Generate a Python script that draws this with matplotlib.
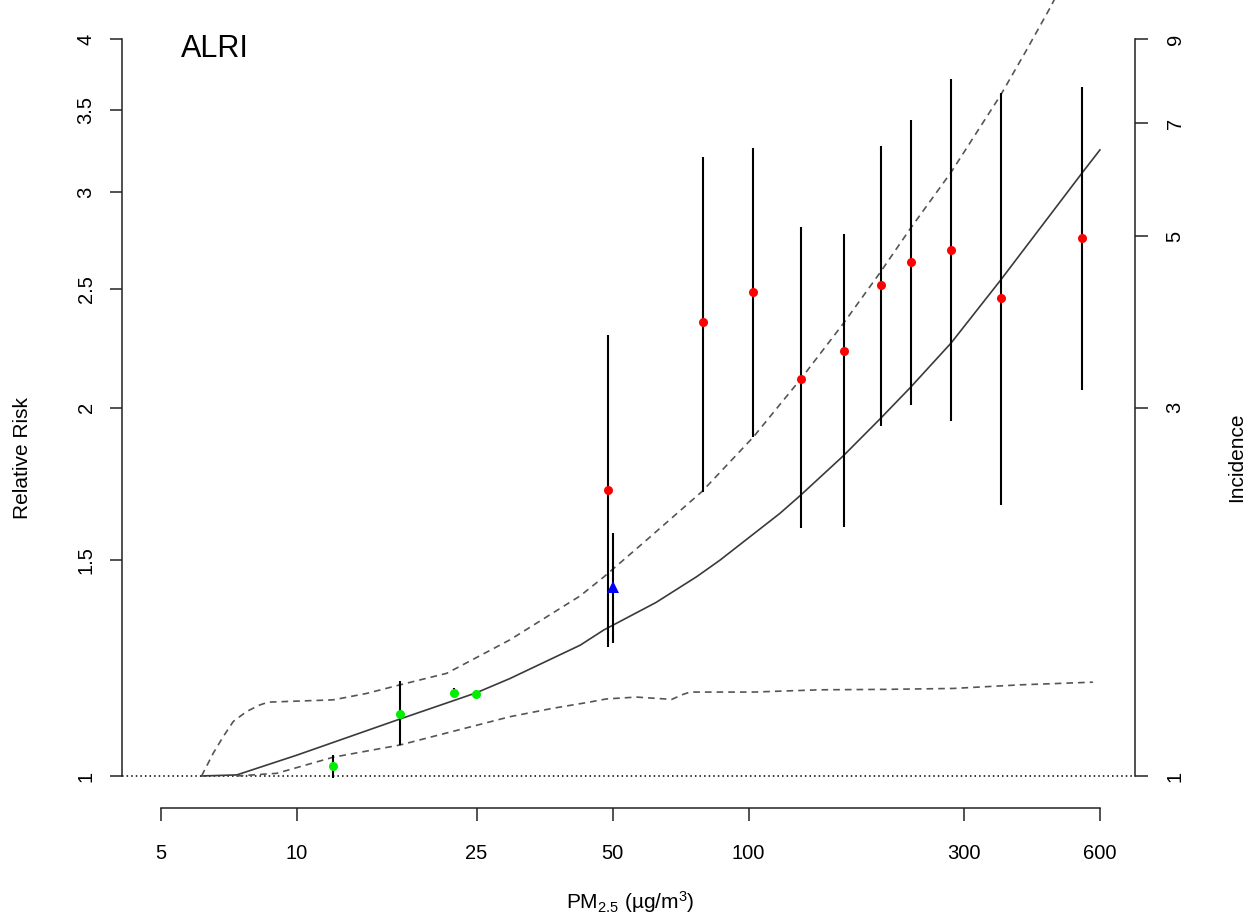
import numpy as np
import matplotlib
matplotlib.use("Agg")
import matplotlib.pyplot as plt
from matplotlib.ticker import NullLocator

plt.rcParams['font.family'] = ['Liberation Sans', 'DejaVu Sans']
plt.rcParams['mathtext.default'] = 'regular'

# exposure-response curve (central estimate) and its bounds
curve_pm = [6.15, 7.36, 10.0, 16.9, 24.9, 29.6, 42.4, 47.8, 62.4, 76.8, 86.5, 117.4, 130.7,
            162.1, 196.2, 228.6, 281.2, 361.7, 548.4, 600]
curve_rr = [1.000, 1.002, 1.040, 1.113, 1.169, 1.201, 1.279, 1.316, 1.386, 1.455, 1.501, 1.639, 1.697,
            1.826, 1.960, 2.078, 2.259, 2.542, 3.111, 3.247]

upper_pm = [6.15, 6.53, 6.87, 7.23, 7.74, 8.28, 8.64, 12.04, 14.27, 16.91, 21.46, 29.64,
            42.35, 47.8, 59.5, 78.8, 102.5, 130.9, 162.4, 196.2, 228.6, 281.2, 361.7,
            413, 465, 490]
upper_rr = [1.000, 1.044, 1.077, 1.108, 1.129, 1.143, 1.149, 1.154, 1.168, 1.187, 1.213, 1.292,
            1.403, 1.454, 1.559, 1.707, 1.892, 2.113, 2.344, 2.582, 2.803, 3.115, 3.600,
            3.92, 4.24, 4.40]

lower_pm = [7.36, 9.02, 12.04, 16.91, 29.64, 36.96, 43.8, 48.5, 56.5, 67.6, 71.7,
            74.2, 102.5, 143.9, 202.3, 284, 399, 579]
lower_rr = [1.000, 1.005, 1.036, 1.060, 1.118, 1.136, 1.148, 1.156, 1.160, 1.155, 1.166,
            1.171, 1.171, 1.176, 1.177, 1.179, 1.187, 1.193]

# study estimates
red_pm = [48.9, 79.1, 102.5, 130.7, 162.5, 196.5, 228.6, 281.2, 361.7, 548.4]
red_rr = [1.713, 2.348, 2.484, 2.111, 2.226, 2.517, 2.628, 2.690, 2.458, 2.751]
red_lo = [1.275, 1.707, 1.893, 1.594, 1.598, 1.932, 2.010, 1.950, 1.665, 2.067]
red_hi = [2.292, 3.206, 3.261, 2.807, 2.770, 3.271, 3.435, 3.708, 3.611, 3.658]

green_pm = [12.04, 16.91, 22.27, 24.92]
green_rr = [1.018, 1.124, 1.170, 1.166]
green_lo = [0.996, 1.060, 1.160, 1.166]
green_hi = [1.040, 1.196, 1.181, 1.166]

blue_pm = [50.0]
blue_rr = [1.427]
blue_lo = [1.285]
blue_hi = [1.580]

x_ticks = [5, 10, 25, 50, 100, 300, 600]
rr_ticks = [1, 1.5, 2, 2.5, 3, 3.5, 4]
inc_ticks = [1, 3, 5, 7, 9]

fig = plt.figure(figsize=(12.55, 9.17), dpi=100)
ax = fig.add_axes([0.0972, 0.1189, 0.8072, 0.8811])
ax.set_xscale('log')
ax.set_yscale('log')
ax.set_xlim(4.099, 717.6)
ax.set_ylim(0.9416, 4.305)

ax.axhline(1, color='black', lw=1.1, ls=(0, (1, 2)), zorder=1)
ax.plot(curve_pm, curve_rr, color='#3a3a3a', lw=1.2, zorder=2)
ax.plot(upper_pm, upper_rr, color='#555555', lw=1.2, ls=(0, (4, 3)), zorder=2)
ax.plot(lower_pm, lower_rr, color='#555555', lw=1.2, ls=(0, (4, 3)), zorder=2)

ax.vlines(red_pm, red_lo, red_hi, color='black', lw=1.5, zorder=3)
ax.vlines(green_pm, green_lo, green_hi, color='black', lw=1.5, zorder=3)
ax.vlines(blue_pm, blue_lo, blue_hi, color='black', lw=1.5, zorder=3)
ax.plot(red_pm, red_rr, 'o', color='#ff0000', ms=6.5, mew=0, zorder=4)
ax.plot(green_pm, green_rr, 'o', color='#00ee00', ms=6.5, mew=0, zorder=4)
ax.plot(blue_pm, blue_rr, '^', color='#0000ff', ms=8, mew=0, zorder=4)

ax.set_xticks(x_ticks, labels=[str(v) for v in x_ticks])
ax.set_yticks(rr_ticks, labels=['1', '1.5', '2', '2.5', '3', '3.5', '4'])
ax.xaxis.set_minor_locator(NullLocator())
ax.yaxis.set_minor_locator(NullLocator())
ax.tick_params(axis='both', length=9, width=1.1, color='#222222', labelsize=14.5)
ax.tick_params(axis='x', pad=17)
ax.tick_params(axis='y', pad=10)
for lab in ax.get_yticklabels():
    lab.set_rotation(90)
    lab.set_va('center')

ax.spines['top'].set_visible(False)
ax.spines['right'].set_visible(False)
ax.spines['left'].set_bounds(1, 4)
ax.spines['bottom'].set_bounds(5, 600)
for s in ['left', 'bottom']:
    ax.spines[s].set_linewidth(1.1)
    ax.spines[s].set_color('#222222')

# incidence axis on the right
ax2 = ax.twinx()
ax2.set_yscale('log')
ax2.set_ylim(ax.get_ylim())
inc_pos = [i ** (np.log(4) / np.log(9)) for i in inc_ticks]
ax2.set_yticks(inc_pos, labels=[str(i) for i in inc_ticks])
ax2.yaxis.set_minor_locator(NullLocator())
ax2.tick_params(axis='y', length=9, width=1.1, color='#222222', labelsize=14.5, pad=13)
for lab in ax2.get_yticklabels():
    lab.set_rotation(90)
    lab.set_va('center')
for s in ['left', 'top', 'bottom']:
    ax2.spines[s].set_visible(False)
ax2.spines['right'].set_bounds(1, 4)
ax2.spines['right'].set_linewidth(1.1)
ax2.spines['right'].set_color('#222222')

fig.text(23 / 1255, 0.501, 'Relative Risk', rotation=90, ha='center', va='center', fontsize=15)
fig.text(1237 / 1255, 0.501, 'Incidence', rotation=90, ha='center', va='center', fontsize=15)
fig.text(630 / 1255, 1 - 902 / 917, 'PM$_{2.5}$ (µg/m$^{3}$)', ha='center', va='center', fontsize=15)
fig.text(181 / 1255, 1 - 57 / 917, 'ALRI', ha='left', va='baseline', fontsize=22)

fig.savefig('out.png', dpi=100)
